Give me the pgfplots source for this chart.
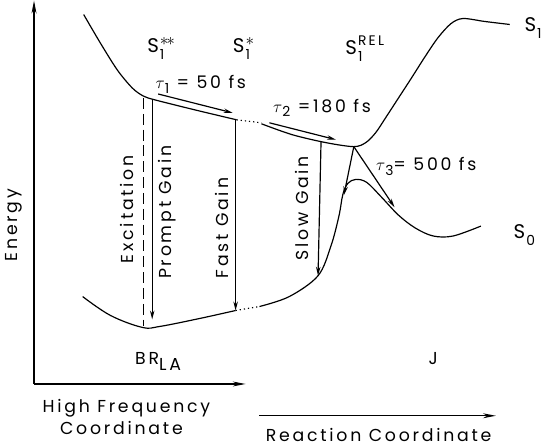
\documentclass[border=0pt]{standalone}
\usepackage{fontspec}
\setmainfont{Poppins}[LetterSpace=16]
\usepackage{pgfplots}
\pgfplotsset{compat=1.18}
\usetikzlibrary{arrows.meta}
\newcommand{\St}[2]{{\fontsize{20}{22}\selectfont S\kern1pt\raisebox{-7pt}{\rlap{\fontsize{14}{15}\selectfont #1}}\raisebox{9pt}{\fontsize{14}{15}\selectfont #2}}}
\newcommand{\ta}[1]{$\tau$\raisebox{-5pt}{\fontsize{14}{15}\selectfont #1}}
\newcommand{\st}{\raisebox{-2pt}{\fontsize{17}{18}\selectfont$\ast$}}
\begin{document}
\fontsize{17.5}{20}\selectfont
\begin{tikzpicture}
\begin{axis}[scale only axis, width=543bp, height=454bp,
  xmin=0, xmax=543, ymin=-454, ymax=0, hide axis, clip=false,
  every axis plot/.append style={black, line width=1.2pt},
  ar/.style={-{Stealth[length=9pt,width=4.5pt]}},
  axar/.style={-{Stealth[length=13pt,width=5pt]}}]
% axes
\addplot[axar, line width=1.3pt] coordinates {(33,-396) (33,-10)};
\addplot[axar, line width=1.3pt] coordinates {(33,-396) (246,-396)};
\addplot[axar, line width=1.3pt] coordinates {(260,-428) (498,-428)};
% S1 curve
\addplot[smooth, tension=0.5] coordinates {(83,-24) (100,-53) (117,-80) (132,-98) (143,-106) (155,-110) (195,-120) (237,-130)};
\addplot[dash pattern=on 1.2pt off 3pt] coordinates {(237,-130) (262,-133)};
\addplot[smooth, tension=0.5] coordinates {(262,-134) (293,-145) (327,-153) (355,-157) (367,-153) (377,-143) (387,-128) (400,-108) (413,-88) (427,-66) (440,-47) (453,-33) (465,-28) (487,-31) (512,-34)};
% S0 curve
\addplot[smooth, tension=0.6] coordinates {(82,-308) (110,-327) (142,-339) (160,-338) (200,-330) (236,-322)};
\addplot[dash pattern=on 1.2pt off 3pt] coordinates {(236,-322) (260,-318)};
\addplot[smooth, tension=0.55] coordinates {(260,-318) (290,-308) (319,-287) (332,-257) (340,-227) (344,-205) (349,-194) (357,-190) (368,-193) (383,-208) (400,-226) (417,-239) (435,-247) (455,-247) (483,-237)};
% vertical transitions
\addplot[dash pattern=on 11pt off 5pt] coordinates {(143,-108) (143,-338)};
\addplot[ar] coordinates {(152,-110) (152,-331)};
\addplot[ar] coordinates {(236,-130) (236,-322)};
\addplot[ar] coordinates {(322,-152) (319,-287)};
% relaxation arrows
\addplot[ar] coordinates {(158,-104) (233,-123)};
\addplot[ar] coordinates {(270,-133) (337,-150)};
\addplot[ar] coordinates {(355,-157) (345,-206)};
\addplot[ar] coordinates {(355,-157) (396,-218)};
% labels
\node at (axis cs:161,-58) {\St{1}{\st\kern-2pt\st}};
\node at (axis cs:244,-58) {\St{1}{\st}};
\node at (axis cs:366,-58) {\St{1}{REL}};
\node[anchor=west] at (axis cs:521,-38) {\St{1}{}};
\node[anchor=west] at (axis cs:510,-246) {\St{0}{}};
\node at (axis cs:201,-94) {\ta{1} = 50 fs};
\node at (axis cs:323,-118) {\ta{2} =180 fs};
\node at (axis cs:428,-177) {\ta{3}= 500 fs};
\node at (axis cs:158,-373) {BR\raisebox{-6pt}{LA}};
\node at (axis cs:435,-370) {J};
\node[rotate=90] at (axis cs:13,-236) {Energy};
\node[rotate=90] at (axis cs:127,-220) {Excitation};
\node[rotate=90] at (axis cs:167,-223) {Prompt Gain};
\node[rotate=90] at (axis cs:222,-239) {Fast Gain};
\node[rotate=90] at (axis cs:303,-219) {Slow Gain};
\node at (axis cs:126,-420) {High Frequency};
\node at (axis cs:121,-440) {Coordinate};
\node at (axis cs:380,-447) {Reaction Coordinate};
\end{axis}
\end{tikzpicture}
\end{document}
